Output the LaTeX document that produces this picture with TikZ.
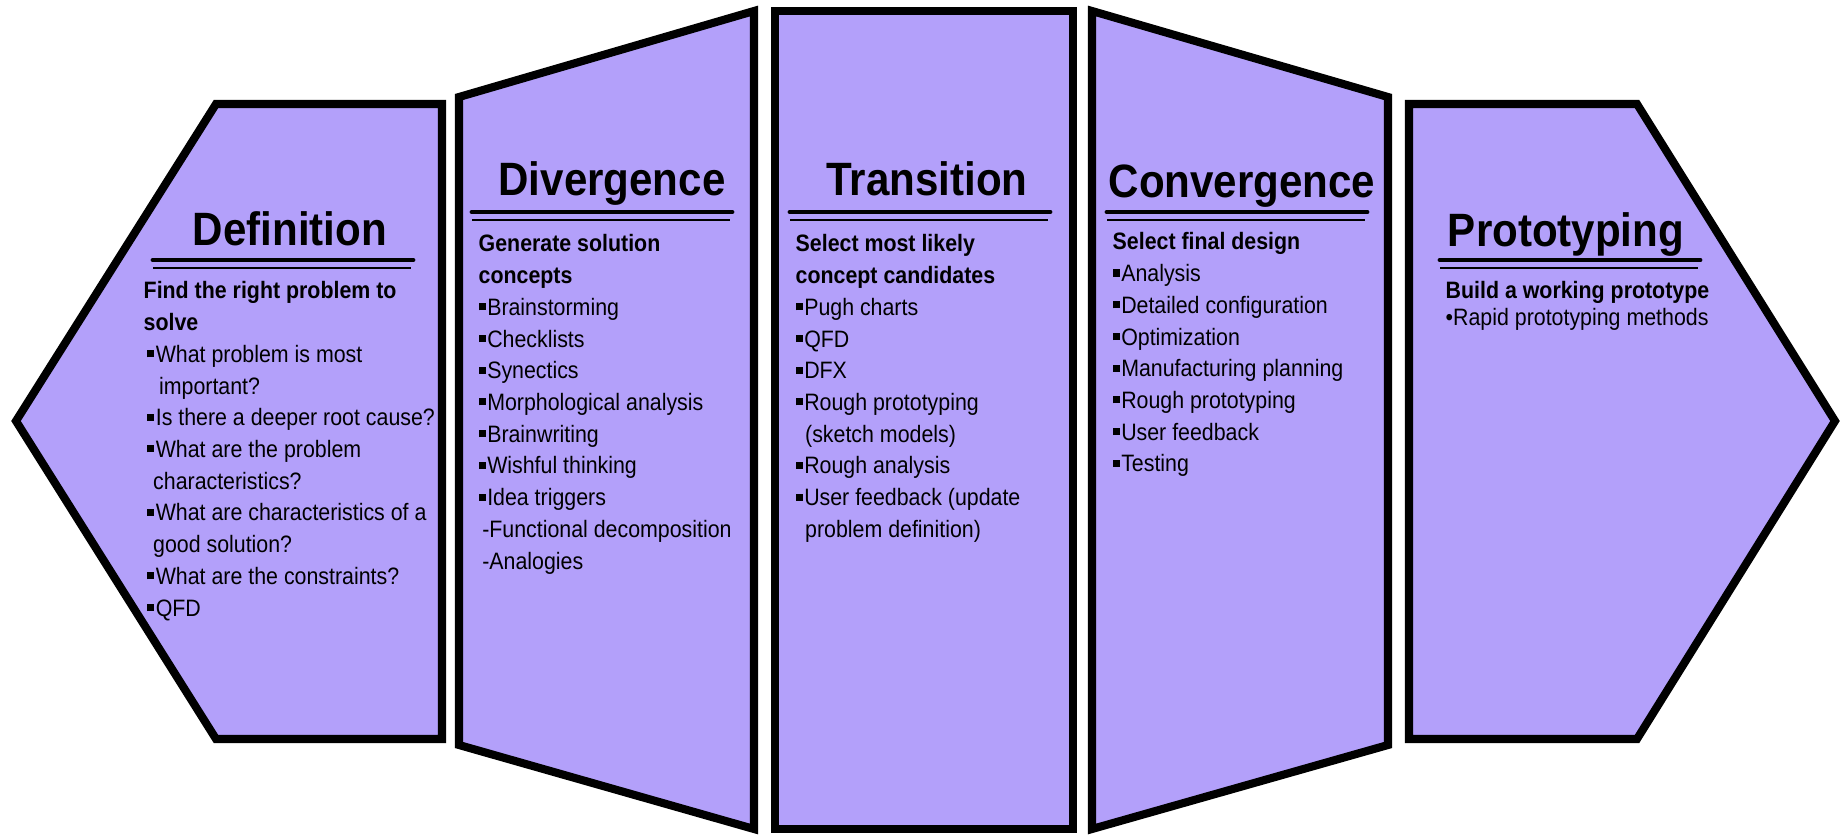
\documentclass[tikz,border=0pt]{standalone}
\usepackage{fontspec}
\setmainfont{Liberation Sans}[FakeStretch=0.9]

\definecolor{panelfill}{RGB}{179,160,250}
\newcommand{\sqbul}{\raisebox{0.21em}{\rule{0.3em}{0.3em}}\kern0.06em}
\newcommand{\topstrut}{\rule{0pt}{6.3pt}}

\tikzset{
	panel/.style={draw=black, line width=2.3pt, fill=panelfill},
	headline/.style={anchor=base, inner sep=0pt, font=\fontsize{13.3}{16}\selectfont\bfseries},
	bodytext/.style={anchor=north west, inner sep=0pt, align=left, font=\fontsize{6.75}{9.02}\selectfont},
}

\begin{document}
\begin{tikzpicture}[x=0.01cm, y=-0.01cm]
	\useasboundingbox (0,0) rectangle (1847,836);
	
	% the five panels
	\draw[panel] (216,104) -- (442,104) -- (442,739) -- (216,739) -- (16,421) -- cycle;
	\draw[panel] (459,97) -- (754,11) -- (754,829) -- (459,745) -- cycle;
	\draw[panel] (775,11) rectangle (1073,829);
	\draw[panel] (1092,11) -- (1388,97) -- (1388,745) -- (1092,829) -- cycle;
	\draw[panel] (1409,104) -- (1637,104) -- (1835,421) -- (1637,739) -- (1409,739) -- cycle;
	
	% headings
	\node[headline] (deftitle) at (290,245) {Definition};
	\node[headline] (divtitle) at (612,195) {Divergence};
	\node[headline] (trantitle) at (927,195) {Transition};
	\node[headline] (convtitle) at (1242,197) {Convergence};
	\node[headline] (prototitle) at (1566,246) {Prototyping};
	
	\foreach \x/\y in {153/260, 472/212, 790/212, 1107/212, 1440/260}
	{
		\draw[line width=1.4pt, line cap=round] (\x,\y) -- (\x+260,\y);
		\draw[line width=0.6pt] (\x,\y+8) -- (\x+258,\y+8);
	}
	
	% lists
	\node[bodytext] (deflist) at (143,276) {\topstrut\textbf{Find the right problem to}\\
		\textbf{solve}\\
		\hspace*{0.15em}\sqbul What problem is most\\
		\hspace*{0.65em}important?\\
		\hspace*{0.15em}\sqbul Is there a deeper root cause?\\
		\hspace*{0.15em}\sqbul What are the problem\\
		\hspace*{0.4em}characteristics?\\
		\hspace*{0.15em}\sqbul What are characteristics of a\\
		\hspace*{0.4em}good solution?\\
		\hspace*{0.15em}\sqbul What are the constraints?\\
		\hspace*{0.15em}\sqbul QFD};
	
	\node[bodytext] (divlist) at (478,229) {\topstrut\textbf{Generate solution}\\
		\textbf{concepts}\\
		\sqbul Brainstorming\\
		\sqbul Checklists\\
		\sqbul Synectics\\
		\sqbul Morphological analysis\\
		\sqbul Brainwriting\\
		\sqbul Wishful thinking\\
		\sqbul Idea triggers\\
		\hspace*{0.15em}-Functional decomposition\\
		\hspace*{0.15em}-Analogies};
	
	\node[bodytext] (tranlist) at (795,229) {\topstrut\textbf{Select most likely}\\
		\textbf{concept candidates}\\
		\sqbul Pugh charts\\
		\sqbul QFD\\
		\sqbul DFX\\
		\sqbul Rough prototyping\\
		\hspace*{0.4em}(sketch models)\\
		\sqbul Rough analysis\\
		\sqbul User feedback (update\\
		\hspace*{0.4em}problem definition)};
	
	\node[bodytext] (convlist) at (1112,227) {\topstrut\textbf{Select final design}\\
		\sqbul Analysis\\
		\sqbul Detailed configuration\\
		\sqbul Optimization\\
		\sqbul Manufacturing planning\\
		\sqbul Rough prototyping\\
		\sqbul User feedback\\
		\sqbul Testing};
	
	\node[bodytext, font=\fontsize{6.75}{7.68}\selectfont] (protolist) at (1445,276) {\topstrut\textbf{Build a working prototype}\\
		\textbullet Rapid prototyping methods};
\end{tikzpicture}
\end{document}
